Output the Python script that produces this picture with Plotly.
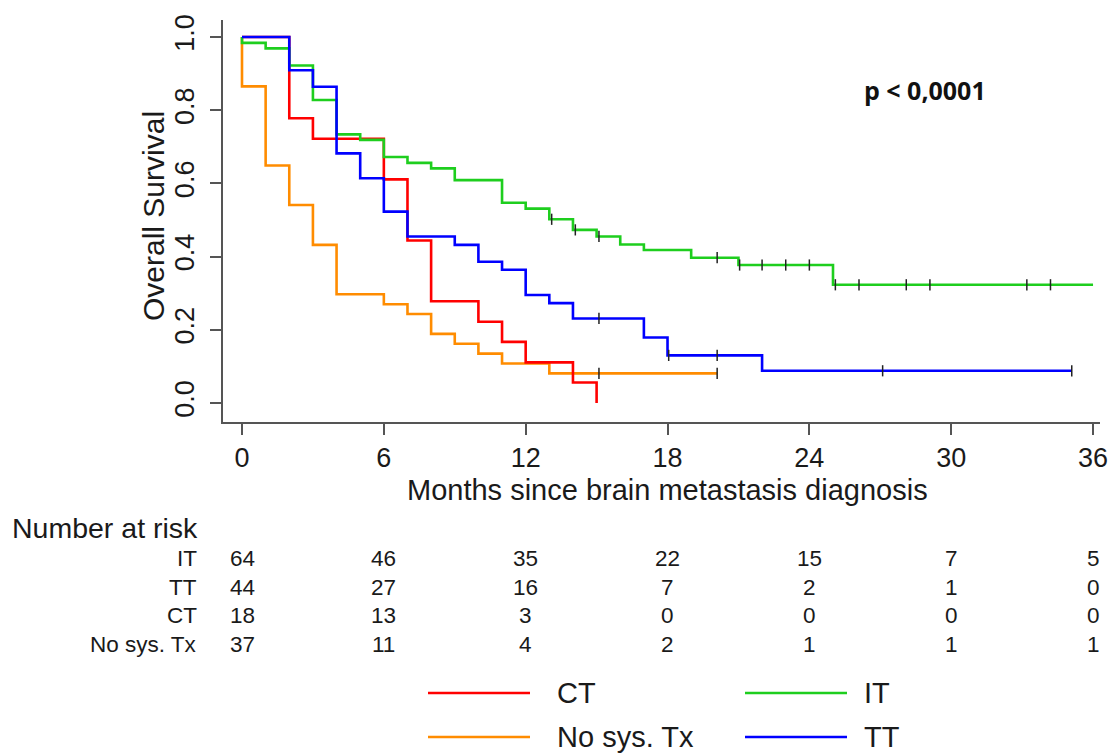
import plotly.graph_objects as go

# Kaplan-Meier step data (months, survival probability)
months_CT = [0, 2, 3, 6, 7, 8, 10, 11, 12, 14, 15]
surv_CT = [1.0, 0.778, 0.722, 0.611, 0.444, 0.278, 0.222, 0.167, 0.111, 0.056, 0.0]
cens_CT = []

months_IT = [0, 0, 1, 2, 3, 4, 5, 6, 7, 8, 9, 11, 12, 13, 14, 15, 16, 17, 19, 21, 25, 36]
surv_IT = [1.0, 0.984, 0.969, 0.922, 0.828, 0.734, 0.719, 0.672, 0.656, 0.641, 0.609,
           0.547, 0.531, 0.502, 0.473, 0.455, 0.433, 0.418, 0.397, 0.377, 0.323, 0.323]
cens_IT = [13.1, 14.1, 15.1, 20.1, 21.05, 22.0, 23.0, 24.0, 25.1, 26.1, 28.1, 29.1, 33.2, 34.2]

months_NoTx = [0, 0, 1, 2, 3, 4, 6, 7, 8, 9, 10, 11, 13, 20.1]
surv_NoTx = [1.0, 0.865, 0.649, 0.541, 0.432, 0.297, 0.270, 0.243, 0.189, 0.162, 0.135, 0.108, 0.081, 0.081]
cens_NoTx = [15.1, 20.1]

months_TT = [0, 2, 3, 4, 5, 6, 7, 9, 10, 11, 12, 13, 14, 17, 18, 22, 35.1]
surv_TT = [1.0, 0.909, 0.864, 0.682, 0.614, 0.523, 0.455, 0.432, 0.386, 0.364, 0.295,
           0.273, 0.231, 0.179, 0.130, 0.088, 0.088]
cens_TT = [15.1, 18.05, 20.1, 27.1, 35.1]

# Number at risk table
risk_times = [0, 6, 12, 18, 24, 30, 36]
risk_IT = [64, 46, 35, 22, 15, 7, 5]
risk_TT = [44, 27, 16, 7, 2, 1, 0]
risk_CT = [18, 13, 3, 0, 0, 0, 0]
risk_NoTx = [37, 11, 4, 2, 1, 1, 1]

x_ticks = [0, 6, 12, 18, 24, 30, 36]
y_ticks = [0.0, 0.2, 0.4, 0.6, 0.8, 1.0]

groups = [
    ("CT", months_CT, surv_CT, cens_CT, "#FF0000"),
    ("IT", months_IT, surv_IT, cens_IT, "#1ECE1E"),
    ("No sys. Tx", months_NoTx, surv_NoTx, cens_NoTx, "#FF8C00"),
    ("TT", months_TT, surv_TT, cens_TT, "#0000FF"),
]
risk_rows = [("IT", risk_IT), ("TT", risk_TT), ("CT", risk_CT), ("No sys. Tx", risk_NoTx)]

FONT = "Liberation Sans, Arial, sans-serif"
W, H = 1113, 754
ML, MR, MT, MB = 223, 13, 20, 332
PW, PH = W - ML - MR, H - MT - MB


def surv_at(months, surv, t):
    val = surv[0]
    for m, s in zip(months, surv):
        if m <= t:
            val = s
    return val


def px_to_paper_y(p):
    return (H - MB - p) / PH


def px_to_paper_x(p):
    return (p - ML) / PW


fig = go.Figure()

# draw order: orange, red, green, blue on top
for idx in [2, 0, 1, 3]:
    name, months, surv, cens, color = groups[idx]
    fig.add_trace(go.Scatter(x=months, y=surv, mode="lines", name=name,
                             line=dict(color=color, width=2.6, shape="hv"),
                             showlegend=False, hoverinfo="skip"))

for name, months, surv, cens, color in groups:
    if cens:
        fig.add_trace(go.Scatter(
            x=cens, y=[surv_at(months, surv, t) for t in cens], mode="markers",
            marker=dict(symbol="line-ns", size=8, line=dict(color="#222222", width=1.5)),
            showlegend=False, hoverinfo="skip"))

annotations = []
# axis titles
annotations.append(dict(text="Months since brain metastasis diagnosis", xref="paper", yref="paper",
                        x=px_to_paper_x(667), y=px_to_paper_y(490), showarrow=False,
                        xanchor="center", yanchor="middle", font=dict(size=29, color="#1a1a1a", family=FONT)))
annotations.append(dict(text="Overall Survival", xref="paper", yref="paper", textangle=-90,
                        x=px_to_paper_x(153), y=px_to_paper_y(216), showarrow=False,
                        xanchor="center", yanchor="middle", font=dict(size=30, color="#1a1a1a", family=FONT)))
# p-value
annotations.append(dict(text="<b>p < 0,0001</b>", xref="paper", yref="paper",
                        x=px_to_paper_x(925), y=px_to_paper_y(90), showarrow=False,
                        xanchor="center", yanchor="middle", font=dict(size=25, color="#111111", family="Open Sans, sans-serif")))

# number at risk table
annotations.append(dict(text="Number at risk", xref="paper", yref="paper",
                        x=px_to_paper_x(10), y=px_to_paper_y(528), showarrow=False,
                        xanchor="left", yanchor="middle", font=dict(size=28.5, color="#1a1a1a", family=FONT)))
row_y = [558, 587, 615, 644]
for (label, counts), ry in zip(risk_rows, row_y):
    annotations.append(dict(text=label, xref="paper", yref="paper",
                            x=px_to_paper_x(199), y=px_to_paper_y(ry), showarrow=False,
                            xanchor="right", yanchor="middle", font=dict(size=22.5, color="#1a1a1a", family=FONT)))
    for t, c in zip(risk_times, counts):
        annotations.append(dict(text=str(c), xref="x", yref="paper",
                                x=t, y=px_to_paper_y(ry), showarrow=False,
                                xanchor="center", yanchor="middle", font=dict(size=22.5, color="#1a1a1a", family=FONT)))

# legend drawn below the table
shapes = []
legend_pos = [(428, 530, 555, 693), (745, 847, 862, 693), (428, 530, 555, 737), (745, 847, 862, 737)]
for (name, months, surv, cens, color), (x0, x1, tx, ly) in zip(groups, legend_pos):
    shapes.append(dict(type="line", xref="paper", yref="paper",
                       x0=px_to_paper_x(x0), x1=px_to_paper_x(x1),
                       y0=px_to_paper_y(ly), y1=px_to_paper_y(ly),
                       line=dict(color=color, width=2.6)))
    annotations.append(dict(text=name, xref="paper", yref="paper",
                            x=px_to_paper_x(tx), y=px_to_paper_y(ly), showarrow=False,
                            xanchor="left", yanchor="middle", font=dict(size=29, color="#1a1a1a", family=FONT)))

axis_col = "#555555"
x_lo = (ML - 242) / 23.64
x_hi = x_lo + PW / 23.64
y_lo = (403 - (H - MB)) / 366
y_hi = y_lo + PH / 366

fig.update_layout(
    width=W, height=H,
    margin=dict(l=ML, r=MR, t=MT, b=MB, pad=0, autoexpand=False),
    paper_bgcolor="white", plot_bgcolor="white",
    font=dict(family=FONT, color="#1a1a1a"),
    xaxis=dict(range=[x_lo, x_hi], tickvals=x_ticks, ticks="outside", ticklen=11, tickwidth=1.5,
               tickcolor=axis_col, showline=True, linecolor=axis_col, linewidth=1.8, mirror=False,
               showgrid=False, zeroline=False, automargin=False,
               tickfont=dict(size=27, color="#1a1a1a"), ticklabelstandoff=0),
    yaxis=dict(range=[y_lo, y_hi], tickvals=y_ticks, tickformat=".1f", tickangle=-90,
               ticks="outside", ticklen=11, tickwidth=1.5, tickcolor=axis_col,
               showline=True, linecolor=axis_col, linewidth=1.8, mirror=False,
               showgrid=False, zeroline=False, automargin=False,
               tickfont=dict(size=27, color="#1a1a1a"), ticklabelstandoff=5),
    annotations=annotations,
    shapes=shapes,
    showlegend=False,
)

fig.write_html("out.html")
